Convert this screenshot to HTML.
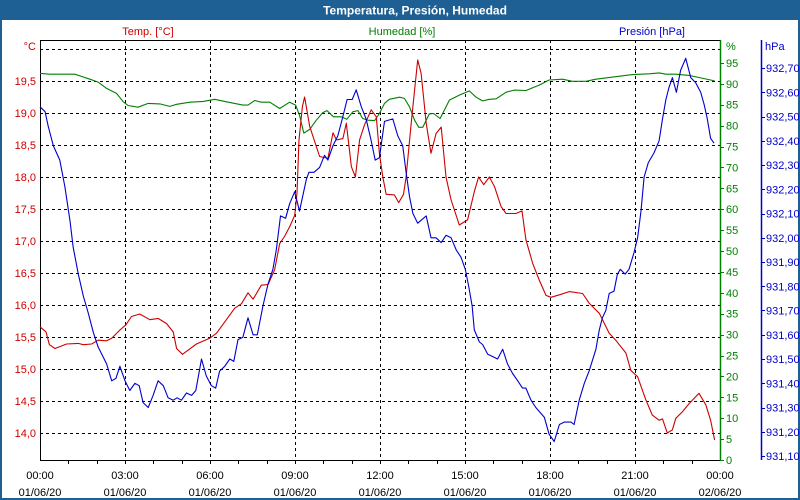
<!DOCTYPE html>
<html><head><meta charset="utf-8"><style>
html,body{margin:0;padding:0;background:#fff;}
#wrap{position:relative;width:800px;height:500px;overflow:hidden;font-family:"Liberation Sans",sans-serif;}
svg text{font-family:"Liberation Sans",sans-serif;}
</style></head><body>
<div id="wrap">
<svg id="chart" width="800" height="500" viewBox="0 0 800 500" xmlns="http://www.w3.org/2000/svg">
<rect x="0" y="0" width="800" height="500" fill="#fff"/>
<rect x="1" y="1" width="798" height="498" fill="none" stroke="#1e5f94" stroke-width="2"/>
<rect x="0" y="0" width="800" height="20" fill="#1e5f94"/>
<text x="415" y="14.5" text-anchor="middle" font-size="12" font-weight="bold" fill="#fff">Temperatura, Presión, Humedad</text>
<text x="148" y="35" text-anchor="middle" font-size="11" fill="#cc0000">Temp. [°C]</text>
<text x="402" y="35" text-anchor="middle" font-size="11" fill="#008000">Humedad [%]</text>
<text x="685" y="35" text-anchor="end" font-size="11" fill="#0000cc">Presión [hPa]</text>
<text x="36" y="50" text-anchor="end" font-size="11" fill="#cc0000">°C</text>
<text x="726" y="50" font-size="11" fill="#008000">%</text>
<text x="765" y="50" font-size="11" fill="#0000cc">hPa</text>
<g id="grid"></g>
<g id="axes"></g>
<g id="series"></g>
</svg>
</div>
<script>
const xTickHours = [0,3,6,9,12,15,18,21,24];
const xTickTimes = ["00:00","03:00","06:00","09:00","12:00","15:00","18:00","21:00","00:00"];
const xTickDates = ["01/06/20","01/06/20","01/06/20","01/06/20","01/06/20","01/06/20","01/06/20","01/06/20","02/06/20"];
const tempTicks = [14.0,14.5,15.0,15.5,16.0,16.5,17.0,17.5,18.0,18.5,19.0,19.5];
const humTicks = [0,5,10,15,20,25,30,35,40,45,50,55,60,65,70,75,80,85,90,95];
const presTicks = [931.1,931.2,931.3,931.4,931.5,931.6,931.7,931.8,931.9,932.0,932.1,932.2,932.3,932.4,932.5,932.6,932.7];

const tempHours = [0,0.21,0.33,0.53,0.94,1.35,1.53,1.82,2.05,2.35,2.53,2.82,3.03,3.23,3.52,3.88,4.17,4.47,4.70,4.82,5.03,5.52,5.99,6.23,6.58,6.87,7.11,7.34,7.52,7.81,8.05,8.28,8.46,8.63,8.81,8.99,9.07,9.14,9.26,9.34,9.52,9.87,10.16,10.34,10.46,10.69,10.81,10.99,11.13,11.28,11.45,11.69,11.87,11.98,12.10,12.22,12.51,12.66,12.83,12.92,13.10,13.22,13.33,13.45,13.63,13.80,13.98,14.16,14.33,14.51,14.80,15.09,15.33,15.48,15.66,15.86,16.04,16.27,16.45,16.80,17.01,17.15,17.39,17.62,17.86,18.03,18.33,18.68,19.15,19.38,19.74,20.09,20.32,20.68,20.85,21.09,21.38,21.61,21.85,21.97,22.14,22.32,22.44,22.67,22.91,23.26,23.50,23.67,23.81];
const tempValues = [15.66,15.58,15.38,15.32,15.39,15.40,15.38,15.39,15.45,15.44,15.48,15.61,15.69,15.82,15.86,15.77,15.79,15.71,15.58,15.32,15.23,15.39,15.48,15.56,15.77,15.95,16.02,16.19,16.09,16.31,16.32,16.55,16.96,17.07,17.22,17.40,17.75,18.58,19.10,19.25,18.79,18.32,18.29,18.69,18.58,18.60,18.84,18.16,18.00,18.58,18.81,19.05,18.94,18.37,18.00,17.73,17.72,17.60,17.73,18.00,18.84,19.36,19.83,19.62,18.84,18.37,18.68,18.78,18.00,17.64,17.25,17.33,17.77,18.00,17.88,18.00,17.85,17.54,17.43,17.43,17.47,17.02,16.65,16.39,16.15,16.12,16.16,16.21,16.18,16.03,15.87,15.56,15.45,15.25,14.98,14.88,14.52,14.28,14.20,14.22,14.00,14.05,14.23,14.33,14.46,14.62,14.44,14.20,13.89];

const presHours = [0,0.18,0.29,0.47,0.70,0.88,1.06,1.17,1.35,1.53,1.70,1.88,2.05,2.35,2.53,2.68,2.82,3.00,3.17,3.35,3.50,3.64,3.82,3.99,4.17,4.35,4.52,4.70,4.84,4.99,5.17,5.35,5.50,5.70,5.87,6.05,6.20,6.34,6.52,6.70,6.84,6.99,7.16,7.34,7.52,7.67,7.87,8.05,8.22,8.34,8.49,8.67,8.81,8.99,9.16,9.40,9.49,9.67,9.87,10.04,10.16,10.34,10.51,10.69,10.84,11.02,11.16,11.34,11.51,11.69,11.83,11.98,12.16,12.45,12.63,12.80,12.92,13.04,13.16,13.33,13.63,13.80,13.98,14.16,14.33,14.51,14.69,14.86,15.01,15.13,15.25,15.33,15.51,15.62,15.80,15.98,16.15,16.33,16.50,16.68,16.86,17.03,17.15,17.33,17.50,17.80,17.97,18.15,18.33,18.50,18.74,18.85,19.03,19.21,19.38,19.62,19.74,19.85,19.97,20.09,20.26,20.38,20.48,20.65,20.79,20.97,21.09,21.21,21.32,21.47,21.67,21.85,21.97,22.09,22.20,22.32,22.46,22.61,22.79,22.97,23.14,23.32,23.44,23.55,23.67,23.79];
const presValues = [932.54,932.52,932.46,932.38,932.32,932.21,932.07,931.96,931.85,931.76,931.69,931.61,931.55,931.48,931.41,931.42,931.47,931.41,931.37,931.40,931.39,931.32,931.30,931.35,931.41,931.39,931.34,931.33,931.34,931.33,931.36,931.35,931.37,931.50,931.43,931.39,931.38,931.45,931.47,931.50,931.49,931.58,931.59,931.67,931.60,931.60,931.72,931.81,931.87,931.95,932.09,932.08,932.14,932.19,932.11,932.24,932.27,932.27,932.29,932.34,932.32,932.38,932.42,932.50,932.57,932.57,932.61,932.54,932.49,932.40,932.32,932.33,932.48,932.49,932.42,932.38,932.27,932.17,932.10,932.06,932.09,932.00,932.00,931.98,932.01,932.00,931.95,931.92,931.87,931.80,931.72,931.62,931.57,931.56,931.52,931.51,931.50,931.54,931.48,931.44,931.41,931.38,931.38,931.33,931.30,931.26,931.19,931.16,931.23,931.24,931.24,931.23,931.33,931.40,931.45,931.54,931.62,931.67,931.70,931.77,931.78,931.85,931.87,931.85,931.87,931.94,932.00,932.11,932.25,932.31,932.35,932.40,932.49,932.57,932.62,932.66,932.60,932.69,932.74,932.66,932.64,932.60,932.55,932.49,932.41,932.39];

const humHours = [0,0.35,1.23,1.41,1.76,2.05,2.35,2.70,2.94,3.11,3.46,3.82,4.23,4.58,4.82,5.29,5.76,6.17,6.58,7.16,7.34,7.58,7.81,8.11,8.46,8.81,9.02,9.16,9.31,9.52,9.75,9.98,10.13,10.36,10.63,10.83,11.04,11.22,11.39,11.57,11.81,11.98,12.16,12.33,12.69,12.86,13.04,13.22,13.37,13.51,13.74,13.89,14.12,14.45,14.80,15.15,15.39,15.62,15.86,16.10,16.45,16.74,17.15,17.62,17.97,18.44,18.79,19.27,19.62,20.32,20.91,21.50,21.85,22.09,22.44,22.91,23.26,23.81];
const humValues = [92.5,92.3,92.3,91.9,91.1,90.4,88.9,87.7,85.7,84.8,84.4,85.3,85.2,84.6,85.1,85.6,85.8,86.3,85.7,84.9,84.9,86.0,85.6,85.6,84.1,85.6,84.9,82.5,78.2,79.1,81.3,83.1,83.6,82.1,82.1,81.5,83.3,83.6,81.7,81.3,81.2,82.9,85.3,86.3,86.8,86.5,84.5,81.3,79.6,79.6,82.8,82.9,81.7,86.1,87.3,88.3,86.8,85.9,86.3,86.4,88.0,88.5,88.4,89.7,90.9,91.1,90.6,90.6,91.1,91.7,92.2,92.4,92.6,92.3,92.3,92.0,91.5,90.7];

const NS = "http://www.w3.org/2000/svg";
const PL = 40, PR = 720, PT = 40, PB = 460;
const xScale = h => PL + h * (PR - PL) / 24;
const yTemp = t => 433 - (t - 14) * 64;
const yHum = v => 460 - v * 4.18;
const yPres = p => 456 - (p - 931.1) * 242.5;

function mk(tag, attrs, parent) {
  const e = document.createElementNS(NS, tag);
  for (const k in attrs) e.setAttribute(k, attrs[k]);
  parent.appendChild(e);
  return e;
}
const grid = document.getElementById('grid');
const axes = document.getElementById('axes');
const series = document.getElementById('series');

// horizontal grid lines at temperature ticks (plus 20.0)
const gridTemps = tempTicks.concat([20.0]);
gridTemps.forEach(t => {
  const y = Math.round(yTemp(t)) + 0.5;
  const l = mk('line', {x1: PL, x2: PR, y1: y, y2: y, stroke: '#000', 'stroke-width': 1, 'stroke-dasharray': '3,3'}, grid);
  
  
});
xTickHours.forEach((h, i) => {
  if (i === 0 || i === xTickHours.length - 1) return;
  const x = Math.round(xScale(h)) + 0.5;
  const l = mk('line', {x1: x, x2: x, y1: PT, y2: PB, stroke: '#000', 'stroke-width': 1, 'stroke-dasharray': '3,3'}, grid);
  
  
});

// frame
const fr = mk('path', {d: `M${PL+0.5},${PB} L${PL+0.5},${PT+0.5} L${PR},${PT+0.5}`, fill: 'none', stroke: '#000', 'stroke-width': 1}, axes);


const xa = mk('line', {x1: PL, x2: PR, y1: PB + 0.5, y2: PB + 0.5, stroke: '#000', 'stroke-width': 1}, axes);


const ha = mk('line', {x1: PR + 0.5, x2: PR + 0.5, y1: PT, y2: PB + 1, stroke: '#008000', 'stroke-width': 1.5}, axes);


const pa = mk('line', {x1: 761.5, x2: 761.5, y1: PT, y2: PB, stroke: '#0000cc', 'stroke-width': 1.5}, axes);



// hourly x ticks
for (let h = 1; h < 24; h++) {
  const x = Math.round(xScale(h)) + 0.5;
  const t = mk('line', {x1: x, x2: x, y1: PB, y2: PB + 4, stroke: '#000'}, axes);
  
  
}
xTickHours.forEach((h, i) => {
  const x = xScale(h);
  const a = mk('text', {x: x, y: 479, 'text-anchor': 'middle', 'font-size': 11, fill: '#000'}, axes);
  a.textContent = xTickTimes[i];
  
  
  const b = mk('text', {x: x, y: 496, 'text-anchor': 'middle', 'font-size': 11, fill: '#000'}, axes);
  b.textContent = xTickDates[i];
  
  
});
tempTicks.forEach(t => {
  const e = mk('text', {x: 36, y: yTemp(t) + 4, 'text-anchor': 'end', 'font-size': 11, fill: '#cc0000'}, axes);
  e.textContent = t.toFixed(1).replace('.', ',');
  
  
});
humTicks.forEach(v => {
  const y = Math.round(yHum(v)) + 0.5;
  const tk = mk('line', {x1: PR, x2: PR + 4, y1: y, y2: y, stroke: '#008000'}, axes);
  
  
  const e = mk('text', {x: 726, y: yHum(v) + 4, 'font-size': 11, fill: '#008000'}, axes);
  e.textContent = String(v);
  
  
});
presTicks.forEach(p => {
  const y = Math.round(yPres(p)) + 0.5;
  const tk = mk('line', {x1: 761, x2: 765, y1: y, y2: y, stroke: '#0000cc'}, axes);
  
  
  const e = mk('text', {x: 766, y: yPres(p) + 4, 'font-size': 11, fill: '#0000cc'}, axes);
  e.textContent = p.toFixed(2).replace('.', ',');
  
  
});

function line(hours, vals, yf, color, name) {
  const d = hours.map((h, i) => (i ? 'L' : 'M') + xScale(h).toFixed(1) + ',' + yf(vals[i]).toFixed(1)).join(' ');
  const p = mk('path', {d: d, fill: 'none', stroke: color, 'stroke-width': 1.1, 'stroke-linejoin': 'round'}, series);
  
  
}
line(humHours, humValues, yHum, '#008000', 'humidity-line');
line(tempHours, tempValues, yTemp, '#cc0000', 'temperature-line');
line(presHours, presValues, yPres, '#0000cc', 'pressure-line');
</script>
</body></html>
